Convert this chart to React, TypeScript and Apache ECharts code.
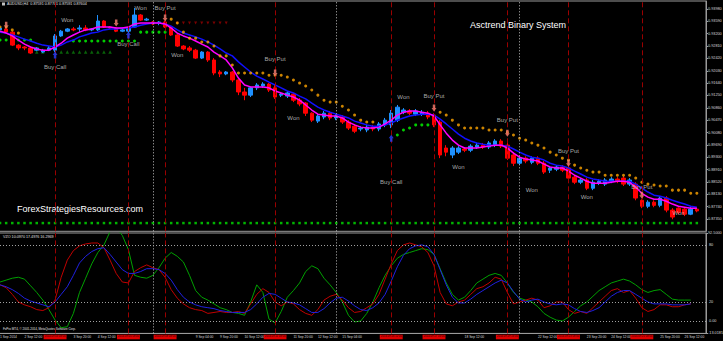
import { useEffect, useRef } from "react";
import * as echarts from "echarts";

// ---- time axis (H4 bars) ----
const fullDays = ["2", "3", "4", "5", "8", "9", "10", "11", "12", "15", "16", "17", "18", "19", "22", "23", "24", "25", "26"];
const hours = ["00:00", "04:00", "08:00", "12:00", "16:00", "20:00"];
const categories: string[] = ["1 Sep 20:00"];
fullDays.forEach((d) => hours.forEach((h) => categories.push(`${d} Sep ${h}`)));
categories.push("29 Sep 00:00");

// ---- price data [open, close, low, high] ----
const ohlc: number[][] = [
  [0.9332, 0.9338, 0.9325, 0.9344], [0.9335, 0.9325, 0.9322, 0.9341], [0.9325, 0.9284, 0.9281, 0.9328], [0.9284, 0.9275, 0.9268, 0.9287],
  [0.9278, 0.9275, 0.9268, 0.9281], [0.9275, 0.9259, 0.9256, 0.9278], [0.9268, 0.9275, 0.9265, 0.9278], [0.9262, 0.9268, 0.9259, 0.9272],
  [0.9268, 0.9275, 0.9265, 0.9281], [0.9268, 0.9313, 0.9262, 0.9319], [0.9313, 0.9328, 0.9310, 0.9332], [0.9328, 0.9335, 0.9325, 0.9338],
  [0.9335, 0.9332, 0.9328, 0.9341], [0.9335, 0.9338, 0.9325, 0.9347], [0.9338, 0.9332, 0.9328, 0.9347], [0.9332, 0.9335, 0.9328, 0.9338],
  [0.9332, 0.9360, 0.9328, 0.9379], [0.9360, 0.9341, 0.9338, 0.9363], [0.9341, 0.9338, 0.9335, 0.9344], [0.9338, 0.9328, 0.9325, 0.9341],
  [0.9328, 0.9332, 0.9325, 0.9335], [0.9328, 0.9338, 0.9322, 0.9341], [0.9341, 0.9379, 0.9338, 0.9401], [0.9379, 0.9363, 0.9360, 0.9382],
  [0.9363, 0.9366, 0.9360, 0.9370], [0.9357, 0.9351, 0.9347, 0.9360], [0.9354, 0.9357, 0.9347, 0.9360], [0.9357, 0.9341, 0.9338, 0.9360],
  [0.9341, 0.9316, 0.9313, 0.9344], [0.9316, 0.9281, 0.9278, 0.9319], [0.9281, 0.9272, 0.9268, 0.9284], [0.9275, 0.9268, 0.9262, 0.9281],
  [0.9268, 0.9243, 0.9240, 0.9272], [0.9243, 0.9262, 0.9240, 0.9265], [0.9262, 0.9237, 0.9231, 0.9265], [0.9237, 0.9196, 0.9189, 0.9243],
  [0.9199, 0.9193, 0.9183, 0.9205], [0.9193, 0.9199, 0.9189, 0.9202], [0.9199, 0.9174, 0.9167, 0.9202], [0.9174, 0.9136, 0.9126, 0.9177],
  [0.9136, 0.9126, 0.9110, 0.9149], [0.9126, 0.9149, 0.9120, 0.9152], [0.9149, 0.9158, 0.9142, 0.9164], [0.9155, 0.9161, 0.9149, 0.9167],
  [0.9161, 0.9142, 0.9136, 0.9164], [0.9149, 0.9120, 0.9114, 0.9161], [0.9126, 0.9129, 0.9120, 0.9136], [0.9123, 0.9133, 0.9117, 0.9139],
  [0.9129, 0.9110, 0.9104, 0.9133], [0.9110, 0.9098, 0.9091, 0.9117], [0.9101, 0.9069, 0.9060, 0.9104], [0.9069, 0.9047, 0.9041, 0.9072],
  [0.9044, 0.9060, 0.9038, 0.9066], [0.9057, 0.9069, 0.9050, 0.9076], [0.9069, 0.9054, 0.9047, 0.9076], [0.9054, 0.9060, 0.9047, 0.9066],
  [0.9057, 0.9041, 0.9035, 0.9063], [0.9041, 0.9022, 0.9016, 0.9047], [0.9028, 0.9012, 0.9006, 0.9035], [0.9019, 0.9022, 0.9012, 0.9028],
  [0.9016, 0.9025, 0.9009, 0.9032], [0.9025, 0.9019, 0.9012, 0.9032], [0.9019, 0.9035, 0.9012, 0.9041], [0.9032, 0.9047, 0.9025, 0.9054],
  [0.9032, 0.9069, 0.9022, 0.9079], [0.9047, 0.9088, 0.9041, 0.9095], [0.9072, 0.9079, 0.9066, 0.9085], [0.9076, 0.9069, 0.9063, 0.9082],
  [0.9066, 0.9076, 0.9060, 0.9082], [0.9066, 0.9072, 0.9060, 0.9079], [0.9069, 0.9057, 0.9050, 0.9076], [0.9063, 0.9032, 0.9025, 0.9069],
  [0.9041, 0.8937, 0.8927, 0.9047], [0.8959, 0.8946, 0.8933, 0.8968], [0.8937, 0.8959, 0.8927, 0.8965], [0.8946, 0.8959, 0.8940, 0.8965],
  [0.8956, 0.8952, 0.8946, 0.8962], [0.8952, 0.8965, 0.8946, 0.8971], [0.8962, 0.8968, 0.8956, 0.8975], [0.8968, 0.8962, 0.8956, 0.8975],
  [0.8962, 0.8975, 0.8956, 0.8981], [0.8968, 0.8981, 0.8962, 0.8987], [0.8981, 0.8965, 0.8959, 0.8987], [0.8968, 0.8927, 0.8921, 0.8978],
  [0.8937, 0.8911, 0.8902, 0.8946], [0.8911, 0.8927, 0.8905, 0.8933], [0.8927, 0.8918, 0.8911, 0.8933], [0.8914, 0.8927, 0.8908, 0.8933],
  [0.8927, 0.8911, 0.8905, 0.8933], [0.8911, 0.8883, 0.8877, 0.8918], [0.8889, 0.8896, 0.8880, 0.8902], [0.8892, 0.8899, 0.8886, 0.8905],
  [0.8899, 0.8889, 0.8883, 0.8905], [0.8896, 0.8864, 0.8858, 0.8905], [0.8867, 0.8851, 0.8845, 0.8873], [0.8851, 0.8858, 0.8845, 0.8864],
  [0.8858, 0.8832, 0.8826, 0.8864], [0.8832, 0.8851, 0.8826, 0.8858], [0.8848, 0.8854, 0.8842, 0.8861], [0.8845, 0.8858, 0.8839, 0.8864],
  [0.8854, 0.8861, 0.8848, 0.8867], [0.8861, 0.8854, 0.8848, 0.8867], [0.8864, 0.8845, 0.8839, 0.8870], [0.8845, 0.8858, 0.8839, 0.8864],
  [0.8845, 0.8801, 0.8794, 0.8851], [0.8794, 0.8775, 0.8769, 0.8797], [0.8775, 0.8788, 0.8769, 0.8794], [0.8788, 0.8778, 0.8772, 0.8794],
  [0.8778, 0.8801, 0.8772, 0.8807], [0.8801, 0.8763, 0.8756, 0.8807], [0.8763, 0.8741, 0.8734, 0.8769], [0.8769, 0.8756, 0.8750, 0.8772],
  [0.8766, 0.8750, 0.8744, 0.8772], [0.8750, 0.8766, 0.8747, 0.8772], [0.8766, 0.87604, 0.8756, 0.8770],
];

const fastMA = [
  0.9328, 0.9322, 0.9313, 0.9300, 0.9287, 0.9278, 0.9272, 0.9268, 0.9268, 0.9278, 0.9290, 0.9306, 0.9316, 0.9325, 0.9332, 0.9335,
  0.9341, 0.9341, 0.9341, 0.9338, 0.9338, 0.9341, 0.9351, 0.9354, 0.9354, 0.9354, 0.9354, 0.9351, 0.9338, 0.9322, 0.9313, 0.9306,
  0.9297, 0.9287, 0.9278, 0.9262, 0.9250, 0.9237, 0.9212, 0.9180, 0.9158, 0.9152, 0.9152, 0.9152, 0.9149, 0.9139, 0.9133, 0.9126,
  0.9120, 0.9110, 0.9095, 0.9079, 0.9066, 0.9063, 0.9060, 0.9060, 0.9054, 0.9041, 0.9032, 0.9025, 0.9022, 0.9022, 0.9025, 0.9035,
  0.9047, 0.9063, 0.9072, 0.9076, 0.9076, 0.9072, 0.9069, 0.9060, 0.9032, 0.9006, 0.8984, 0.8968, 0.8959, 0.8959, 0.8959, 0.8962,
  0.8965, 0.8968, 0.8968, 0.8959, 0.8943, 0.8930, 0.8924, 0.8921, 0.8918, 0.8908, 0.8899, 0.8896, 0.8896, 0.8886, 0.8873, 0.8864,
  0.8854, 0.8848, 0.8848, 0.8848, 0.8851, 0.8854, 0.8854, 0.8851, 0.8835, 0.8816, 0.8804, 0.8797, 0.8797, 0.8791, 0.8782, 0.8775,
  0.8772, 0.8769, 0.8769,
];
const slowMA = [
  0.9325, 0.9322, 0.9316, 0.9310, 0.9303, 0.9297, 0.9290, 0.9284, 0.9281, 0.9278, 0.9284, 0.9294, 0.9300, 0.9310, 0.9316, 0.9322,
  0.9325, 0.9332, 0.9335, 0.9335, 0.9338, 0.9338, 0.9341, 0.9347, 0.9351, 0.9354, 0.9354, 0.9351, 0.9344, 0.9332, 0.9322, 0.9316,
  0.9310, 0.9303, 0.9294, 0.9284, 0.9272, 0.9259, 0.9250, 0.9231, 0.9215, 0.9199, 0.9186, 0.9177, 0.9167, 0.9158, 0.9149, 0.9139,
  0.9133, 0.9123, 0.9114, 0.9101, 0.9088, 0.9079, 0.9072, 0.9066, 0.9060, 0.9054, 0.9044, 0.9038, 0.9032, 0.9028, 0.9028, 0.9032,
  0.9038, 0.9047, 0.9054, 0.9060, 0.9063, 0.9066, 0.9066, 0.9063, 0.9050, 0.9035, 0.9019, 0.9003, 0.8990, 0.8981, 0.8975, 0.8971,
  0.8968, 0.8968, 0.8968, 0.8965, 0.8956, 0.8946, 0.8937, 0.8930, 0.8927, 0.8921, 0.8911, 0.8905, 0.8902, 0.8896, 0.8886, 0.8877,
  0.8867, 0.8861, 0.8858, 0.8854, 0.8854, 0.8854, 0.8854, 0.8854, 0.8845, 0.8832, 0.8820, 0.8810, 0.8807, 0.8801, 0.8794, 0.8788,
  0.8782, 0.8775, 0.8772,
];

// trailing-stop dots [bar index, price]
const resistanceDots: number[][] = [
  [0, 0.9341], [1, 0.9341], [2, 0.9332], [3, 0.9322],
  [28, 0.9366], [29, 0.9354], [30, 0.9325], [31, 0.9306], [32, 0.9306], [33, 0.9294], [34, 0.9294], [35, 0.9281], [36, 0.925], [37, 0.925],
  [38, 0.9221], [39, 0.9196], [40, 0.9196], [41, 0.9196], [42, 0.9196], [43, 0.9196], [44, 0.9189], [45, 0.9189], [46, 0.9189], [47, 0.9183],
  [48, 0.9174], [49, 0.9164], [50, 0.9155], [51, 0.9142], [52, 0.9126], [53, 0.911], [54, 0.9104], [55, 0.9104], [56, 0.9091], [57, 0.9079],
  [58, 0.9063], [59, 0.9047], [60, 0.9041], [61, 0.9041],
  [72, 0.9072], [73, 0.9063], [74, 0.9047], [75, 0.9032], [76, 0.9022], [77, 0.9022], [78, 0.9022], [79, 0.9022], [80, 0.9016], [81, 0.9016],
  [82, 0.9016], [83, 0.9009], [84, 0.9], [85, 0.899], [86, 0.8984], [87, 0.8975], [88, 0.8968], [89, 0.8959], [90, 0.8946], [91, 0.8937],
  [92, 0.8927], [93, 0.8921], [94, 0.8905], [95, 0.8896], [96, 0.8889], [97, 0.8883], [98, 0.8883], [99, 0.8873], [100, 0.8873], [101, 0.8873],
  [102, 0.8873], [103, 0.8873], [104, 0.8864], [105, 0.8851], [106, 0.8845], [107, 0.8842], [108, 0.8839], [109, 0.8839], [110, 0.8826],
  [111, 0.8826], [112, 0.8826], [113, 0.8816], [114, 0.8816],
];
const supportDots: number[][] = [
  [0, 0.93], [1, 0.93], [2, 0.93], [3, 0.93], [4, 0.93], [5, 0.93],
  [12, 0.9297], [13, 0.9297], [14, 0.9297], [15, 0.9297], [16, 0.9297], [17, 0.9297], [18, 0.9297], [19, 0.9297], [20, 0.9297], [21, 0.9297], [22, 0.9297],
  [23, 0.9325], [24, 0.9325], [25, 0.9325], [26, 0.9325], [27, 0.9325],
  [65, 0.9], [66, 0.9016], [67, 0.9022], [68, 0.9032], [69, 0.9032], [70, 0.9032],
];
const darkGreenMarks: number[][] = [[6, 0.9262], [7, 0.9262], [10, 0.9262], [11, 0.9262], [12, 0.9262], [13, 0.9262], [14, 0.9262], [15, 0.9262], [16, 0.9262], [17, 0.9262], [18, 0.9262]];
const darkRedMarks: number[][] = [[29, 0.9354], [30, 0.9354], [31, 0.9354], [32, 0.9354], [33, 0.9354], [34, 0.9354], [35, 0.9354], [36, 0.9354], [37, 0.9354]];
const signalRowLevel = 0.8722;

const putArrows: number[][] = [[1, 0.9347], [19, 0.9354], [27, 0.937], [45, 0.9196], [71, 0.9085], [83, 0.9006], [93, 0.8911], [105, 0.881]];
const callArrows: number[][] = [[9, 0.9253], [21, 0.9316], [64, 0.899]];
const notes: [string, number, number][] = [
  ["Buy Call", 9, 0.9215], ["Won", 11, 0.9363], ["Buy Call", 21, 0.9287], ["Won", 23, 0.9401], ["Buy Put", 27, 0.9401],
  ["Won", 29, 0.9253], ["Buy Put", 45, 0.924], ["Won", 48, 0.9054], ["Buy Call", 64, 0.8851], ["Won", 66, 0.912],
  ["Buy Put", 71, 0.9123], ["Won", 75, 0.8899], ["Buy Put", 83, 0.9047], ["Won", 87, 0.8826], ["Buy Put", 93, 0.8949],
  ["Won", 96, 0.8804], ["Buy Put", 105, 0.8835], ["Won", 111, 0.8753],
];
const signalLines = [9, 21, 27, 45, 64, 71, 83, 93, 105];
const weekLines = [25, 55, 85];
const lastPrice = 0.87604;

// ---- oscillator ----
const oscRed = [
  38, 35, 28, 20, 17, 15, 12, 11, 14, 22, 46, 64, 74, 79, 81, 82, 82, 77, 64, 50, 41, 40, 52, 56, 59, 56, 54, 46, 33, 24,
  18, 14, 12, 11, 8, 9, 10, 9, 9, 10, 8, 18, 28, 34, 30, 20, 16, 20, 18, 12, 8, 6, 12, 22, 26, 28, 22, 14, 9, 10,
  14, 18, 28, 44, 60, 74, 80, 82, 80, 78, 72, 58, 30, 18, 16, 20, 22, 28, 34, 36, 40, 46, 44, 30, 18, 20, 22, 24, 22, 14,
  16, 20, 20, 12, 8, 10, 8, 14, 20, 26, 32, 34, 30, 32, 24, 14, 10, 12, 17, 17, 15, 15, 17, 18,
];
const oscBlue = [
  38, 36, 33, 29, 24, 21, 19, 17, 15, 20, 28, 36, 48, 61, 68, 73, 76, 77, 70, 62, 54, 50, 50, 52, 55, 55, 54, 50, 43, 33,
  25, 20, 17, 15, 14, 13, 11, 10, 9, 9, 9, 12, 18, 25, 29, 28, 24, 20, 19, 17, 13, 9, 9, 13, 19, 24, 25, 21, 16, 12,
  11, 14, 19, 28, 42, 57, 69, 76, 79, 80, 78, 70, 54, 38, 25, 19, 19, 23, 28, 32, 36, 40, 43, 40, 31, 23, 20, 22, 23, 20,
  18, 17, 18, 17, 13, 10, 9, 11, 14, 20, 26, 30, 32, 32, 28, 24, 20, 18, 18, 18, 17, 17, 17, 18,
];
const oscGreen = [
  41, 43, 45, 46, 44, 37, 30, 22, 12, 1, -7, -6, 8, 30, 45, 60, 72, 80, 94, 98, 90, 75, 48, 46, 45, 48, 56, 66, 72, 68,
  62, 48, 32, 25, 22, 18, 14, 12, 9, 8, 6, 20, 38, 30, 2, -2, 10, 25, 32, 40, 52, 58, 55, 45, 38, 30, 20, 6, -1, 0,
  8, 20, 35, 48, 58, 66, 70, 72, 74, 76, 75, 70, 55, 40, 28, 22, 25, 32, 40, 44, 48, 50, 48, 40, 30, 24, 22, 20, 15, 8,
  4, 1, 0, 4, 10, 16, 20, 26, 32, 36, 40, 42, 44, 42, 38, 33, 30, 32, 33, 28, 23, 22, 22, 22,
];
const oscLevels = [80, 20, 0];
const oscMin = -13.0185;
const oscMax = 92.5;

const FONT = "Liberation Sans";

function stamp(cat: string) {
  const [d, , h] = cat.split(" ");
  return `2014.09.${d.padStart(2, "0")} ${h}`;
}

// a time label is hidden where a signal line's red time box covers it (as on the terminal)
function showTimeLabel(i: number) {
  if (i % 4 !== 0) return false;
  return !signalLines.some((s) => i >= s - 4 && i <= s + 2);
}

const PUT_ARROW = "path://M2,0 L6,0 L6,5 L8,5 L4,10 L0,5 L2,5 Z";
const CALL_ARROW = "path://M4,0 L8,5 L6,5 L6,10 L2,10 L2,5 L0,5 Z";

function buildOption() {
  const vLines = [
    ...signalLines.map((i) => ({ xAxis: categories[i], lineStyle: { color: "#9a0000", type: [5, 3], width: 1 } })),
    ...weekLines.map((i) => ({ xAxis: categories[i], lineStyle: { color: "#bfbfbf", type: [1, 2], width: 1 } })),
  ];
  const mainX = { xAxisIndex: 0, yAxisIndex: 0 };
  return {
    animation: false,
    backgroundColor: "#000",
    textStyle: { fontFamily: FONT },
    grid: [
      { left: -3, right: 17, top: 1, height: 230.3, show: true, borderColor: "#9a9a9a", borderWidth: 1, outerBoundsMode: "none" },
      { left: -3, right: 17, top: 233, height: 100.4, show: true, borderColor: "#9a9a9a", borderWidth: 1, outerBoundsMode: "none" },
    ],
    xAxis: [
      { type: "category", gridIndex: 0, data: categories, show: false },
      {
        type: "category", gridIndex: 1, data: categories,
        axisLine: { onZero: false, lineStyle: { color: "#9a9a9a" } },
        axisTick: { interval: 3, length: 2, lineStyle: { color: "#9a9a9a" } },
        axisLabel: {
          interval: (i: number) => showTimeLabel(i), fontSize: 3.3, color: "#d8d8d8", align: "left", margin: 1.5, fontFamily: FONT,
          formatter: (v: string, i: number) => (i === 0 ? "1 Sep 2014" : v),
        },
        splitLine: { show: false },
      },
      {
        type: "category", gridIndex: 1, data: categories, position: "bottom",
        axisLine: { show: false, onZero: false }, axisTick: { show: false }, splitLine: { show: false },
        axisLabel: {
          interval: (i: number) => signalLines.includes(i), fontSize: 2.7, color: "#2a0000", margin: 1.3,
          backgroundColor: "#e00000", padding: [0.8, 1], fontFamily: FONT, formatter: (v: string) => stamp(v),
        },
      },
    ],
    yAxis: [
      {
        type: "value", gridIndex: 0, position: "right", min: 0.8696, max: 0.94233, interval: 0.0039,
        axisLine: { show: true, lineStyle: { color: "#9a9a9a" } },
        axisTick: { show: true, length: 2, lineStyle: { color: "#9a9a9a" } },
        splitLine: { show: false },
        axisLabel: {
          fontSize: 3.8, color: "#d8d8d8", margin: 2, showMaxLabel: false, showMinLabel: false, fontFamily: FONT,
          formatter: (v: number) => v.toFixed(5),
        },
      },
      {
        type: "value", gridIndex: 1, position: "right", min: oscMin, max: oscMax, interval: oscMax - oscMin,
        axisLine: { show: true, lineStyle: { color: "#9a9a9a" } },
        axisTick: { show: true, length: 2, lineStyle: { color: "#9a9a9a" } },
        splitLine: { show: false },
        axisLabel: { fontSize: 3.8, color: "#d8d8d8", margin: 2, fontFamily: FONT, formatter: (v: number) => v.toFixed(4) },
      },
    ],
    series: [
      {
        type: "scatter", ...mainX, symbol: "rect", symbolSize: 2.5, z: 1, silent: true,
        itemStyle: { color: "#00e000" },
        data: ohlc.map((_, i) => [i, signalRowLevel]),
      },
      { type: "scatter", ...mainX, symbol: "circle", symbolSize: 3, z: 1, silent: true, itemStyle: { color: "#00ff00" }, data: supportDots },
      { type: "scatter", ...mainX, symbol: "triangle", symbolSize: 3.5, z: 1, silent: true, itemStyle: { color: "#0a7a0a" }, data: darkGreenMarks },
      { type: "scatter", ...mainX, symbol: "triangle", symbolRotate: 180, symbolSize: 3, z: 1, silent: true, itemStyle: { color: "#9a0000" }, data: darkRedMarks },
      {
        type: "candlestick", ...mainX, barWidth: 4, z: 2, silent: true,
        itemStyle: { color: "#1e90ff", color0: "#ff0000", borderColor: "#1e90ff", borderColor0: "#ff0000", borderWidth: 1 },
        data: ohlc,
        markLine: {
          silent: true, symbol: ["none", "none"], animation: false,
          label: { show: false },
          data: [
            ...vLines,
            {
              yAxis: lastPrice, lineStyle: { opacity: 0 },
              label: {
                show: true, position: "end", distance: 1, formatter: lastPrice.toFixed(5), fontSize: 3.8,
                color: "#000", backgroundColor: "#f0f0f0", padding: [1, 1.5], fontFamily: FONT,
              },
            },
          ],
        },
      },
      { type: "line", ...mainX, data: slowMA, symbol: "none", z: 3, silent: true, lineStyle: { color: "#1010ff", width: 1.5 } },
      { type: "line", ...mainX, data: fastMA, symbol: "none", z: 3, silent: true, lineStyle: { color: "#ff00ff", width: 1.5 } },
      { type: "scatter", ...mainX, symbol: "circle", symbolSize: 3, z: 4, silent: true, itemStyle: { color: "#ffa500" }, data: resistanceDots },
      { type: "scatter", ...mainX, symbol: PUT_ARROW, symbolSize: [5, 7], z: 5, silent: true, itemStyle: { color: "#f88070" }, data: putArrows },
      { type: "scatter", ...mainX, symbol: CALL_ARROW, symbolSize: [5, 7], z: 5, silent: true, itemStyle: { color: "#2a40ff" }, data: callArrows },
      {
        type: "scatter", ...mainX, symbolSize: 0, z: 6, silent: true,
        data: notes.map(([t, i, p]) => [i, p, t]),
        label: {
          show: true, position: "inside", fontSize: 6, color: "#d4d4d4", fontFamily: FONT,
          formatter: (p: any) => p.data[2],
        },
      },
      {
        type: "line", xAxisIndex: 1, yAxisIndex: 1, data: oscGreen, symbol: "none", silent: true,
        lineStyle: { color: "#00a000", width: 1 },
        markLine: {
          silent: true, symbol: ["none", "none"], animation: false,
          data: [
            ...vLines.map((v) => ({ ...v, label: { show: false } })),
            ...oscLevels.map((lv) => ({
              yAxis: lv, lineStyle: { color: "#a0a0a0", type: [1, 2], width: 1 },
              label: { show: true, position: "end", distance: 3, fontSize: 3.8, color: "#d8d8d8", fontFamily: FONT, formatter: lv === 0 ? "0.00" : String(lv) },
            })),
          ],
        },
      },
      { type: "line", xAxisIndex: 1, yAxisIndex: 1, data: oscRed, symbol: "none", silent: true, lineStyle: { color: "#c00000", width: 1 } },
      { type: "line", xAxisIndex: 1, yAxisIndex: 1, data: oscBlue, symbol: "none", silent: true, lineStyle: { color: "#2020e0", width: 1 } },
    ],
    graphic: [
      { type: "rect", left: 2, top: 2.5, shape: { width: 3, height: 3 }, style: { fill: "#c0c0c0" }, silent: true },
      { type: "text", left: 7, top: 2, silent: true, style: { text: "AUDUSD,H4  0.87591 0.87701 0.87591 0.87604", fill: "#e0e0e0", fontSize: 3.7, fontFamily: FONT } },
      { type: "text", left: 470, top: 20, silent: true, style: { text: "Asctrend Binary System", fill: "#ffffff", fontSize: 9, fontFamily: FONT } },
      { type: "text", left: 17, top: 204, silent: true, style: { text: "ForexStrategiesResources.com", fill: "#ffffff", fontSize: 9, fontFamily: FONT } },
      { type: "text", left: 3, top: 235, silent: true, style: { text: "VZO 10.0970 17.4976 16.2969", fill: "#e0e0e0", fontSize: 3.7, fontFamily: FONT } },
      { type: "text", left: 3, top: 327, silent: true, style: { text: "FxPro MT4, © 2001-2014, MetaQuotes Software Corp.", fill: "#e0e0e0", fontSize: 3, fontFamily: FONT } },
    ],
  };
}

export default function App() {
  const ref = useRef<HTMLDivElement>(null);
  useEffect(() => {
    document.body.style.margin = "0";
    const chart = echarts.init(ref.current!, undefined, { renderer: "svg" });
    chart.setOption(buildOption() as any);
    return () => chart.dispose();
  }, []);
  return <div ref={ref} style={{ width: 723, height: 341, background: "#000" }} />;
}
